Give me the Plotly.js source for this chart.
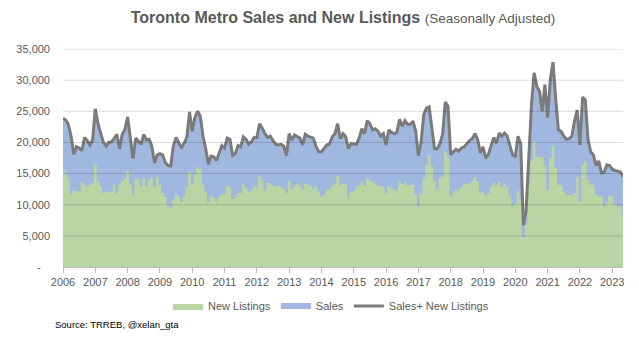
<!DOCTYPE html>
<html><head><meta charset="utf-8">
<script src="https://cdn.plot.ly/plotly-3.0.1.min.js"></script>
<style>html,body{margin:0;padding:0;background:#fff}#chart{width:639px;height:338px}</style>
</head><body><div id="chart"></div>
<script>
const startYear = 2006;
// monthly, Jan 2006 .. May 2023
const newListings = [
15700,14900,14000,11700,12300,12200,12100,13700,13200,12900,13200,13500,
16400,13700,12900,11900,12200,12000,12100,13200,11800,13200,13800,14200,
15400,13200,11600,14100,14100,13000,14300,13000,14000,14300,12900,14500,
13200,11900,11300,9900,9500,10700,11700,11400,10500,11400,12900,15300,
13200,14800,16000,15800,13200,12100,10300,11400,11100,10500,11300,11700,
11800,13100,12800,10900,11200,11900,11900,13400,12700,12100,12400,13000,
12800,14600,13900,12300,13500,13400,13100,12900,13100,12900,12600,11800,
13800,12600,13100,13400,13100,12500,13400,13300,13000,12600,12900,12100,
11300,11500,12400,12500,13000,13400,14600,13100,13400,13300,11300,12100,
12200,12900,13100,13600,13100,14200,13800,13700,13400,13100,13000,12900,
11800,13000,12600,12400,12300,13700,13300,13500,13100,13200,13200,11600,
9700,11800,14200,16400,18000,16100,13700,12500,14400,14500,18500,17800,
11300,12000,12400,12300,12900,13400,13300,13500,13800,14400,13700,12000,
12100,11500,11800,12900,13500,13100,13700,12900,13400,12900,11300,9700,
10200,12200,10900,4800,6800,13300,17000,20100,17700,17700,17600,16200,
12400,17600,19400,15900,13200,13200,12100,11600,11600,11600,11900,14500,
10500,16400,16900,14000,13200,13200,11600,11300,11300,9700,10300,11400,
11300,10000,9800,9700,8600
];
const sales = [
8200,8700,8900,9300,5800,7100,7000,5000,7600,7400,6400,6900,
9000,9300,8600,8100,7200,8000,8000,7400,9500,5800,7500,7900,
8700,7500,5800,6600,6100,6700,7000,7400,6500,5100,3800,3500,
5000,6100,5500,6400,6700,8800,9100,8600,8600,8500,7900,9600,
8600,9200,9000,8400,7800,6900,6200,6400,6600,6600,7200,7800,
7300,7600,7700,7000,7000,7600,7400,7500,7800,7600,7700,7800,
8000,8400,8400,9100,7300,7600,7200,6800,6500,6800,6800,6100,
7600,7800,8100,7600,7600,7100,7900,7700,7800,8100,6400,6400,
7200,7500,7200,7200,7900,8000,8400,7500,8000,7600,7700,7700,
7600,6800,7600,8600,8300,9300,9200,8300,8800,8700,8000,8500,
7800,9000,9000,9000,9300,10000,9300,10000,9800,9700,10200,10200,
8200,8200,10300,9100,7700,5900,5300,6500,5400,6800,8000,8000,
6700,6500,6500,6300,6200,5900,6600,6800,6800,7000,6800,6300,
7200,6000,6300,6700,7300,6800,7800,8100,8100,8100,8000,8300,
7600,8800,8900,1900,2200,3500,9000,11100,11300,10500,7400,13100,
11600,12500,13500,11100,8800,8600,8900,8900,9000,9400,11600,10700,
9100,10900,9900,6500,5300,4800,4700,5700,3800,5500,6100,4900,
4400,5500,5600,5600,5900
];
const yearLabels = ['2006','2007','2008','2009','2010','2011','2012','2013','2014','2015','2016','2017','2018','2019','2020','2021','2022','2023'];
const yTicks = [0,5000,10000,15000,20000,25000,30000,35000];
const yTickText = ['-\u00a0\u00a0\u00a0','5,000','10,000','15,000','20,000','25,000','30,000','35,000'];

const monthIdx = newListings.map((_, i) => i);
const total = sales.map((s, i) => s + newListings[i]);
const yearTickPos = yearLabels.map((_, k) => k * 12);

const FONT = 'Liberation Sans, Arial, sans-serif';
const TXT = '#595959';

const traces = [
  {type:'scatter', x: monthIdx, y: total, mode:'none', fill:'tozeroy', fillcolor:'#a0b7e0',
   name:'Sales', legendrank:2, hoverinfo:'skip'},
  {type:'scatter', x: monthIdx, y: newListings, mode:'lines', line:{shape:'hvh', width:0, color:'#b9d5a4'},
   fill:'tozeroy', fillcolor:'#b9d5a4', name:'New Listings', legendrank:1, hoverinfo:'skip'},
  {type:'scatter', mode:'lines', x: monthIdx, y: total, line:{color:'#7b7b7b', width:3},
   name:'Sales+ New Listings', legendrank:3, hoverinfo:'skip'}
];

const shapes = yTicks.slice(1).map(v => ({type:'line', xref:'paper', x0:0, x1:1, yref:'y', y0:v, y1:v,
  line:{color:'rgba(0,0,0,0.15)', width:1}, layer:'above'}));

const layout = {
  width:639, height:338,
  margin:{l:63, r:16, t:49, b:71},
  paper_bgcolor:'#fff', plot_bgcolor:'#fff',
  showlegend:true,
  title:{text:'<b>Toronto Metro Sales and New Listings</b> <span style="font-size:13.5px">(Seasonally Adjusted)</span>',
    font:{family:FONT, size:16, color:TXT},
    x:0.5, xref:'paper', xanchor:'center', y:1-17/338, yref:'container', yanchor:'middle'},
  xaxis:{range:[0, newListings.length-1], tickvals:yearTickPos, ticktext:yearLabels,
    ticks:'outside', ticklen:5, tickcolor:'#bfbfbf', showline:true, linecolor:'#bfbfbf', linewidth:1,
    showgrid:false, zeroline:false, tickfont:{family:FONT, size:11, color:TXT}, fixedrange:true},
  yaxis:{range:[0,35000], tickvals:yTicks, ticktext:yTickText, showgrid:false, zeroline:false,
    ticks:'', showline:false, ticklabelstandoff:12, tickfont:{family:FONT, size:11, color:TXT}, fixedrange:true},
  legend:{orientation:'h', x:(331-63)/560, xanchor:'center', y:-(306-267)/218, yanchor:'middle',
    font:{family:FONT, size:11, color:TXT}, traceorder:'normal'},
  shapes: shapes,
  annotations:[{text:'Source: TRREB, @xelan_gta', xref:'paper', yref:'paper', x:(53-63)/560, y:-(324-267)/218,
    xanchor:'left', yanchor:'middle', showarrow:false, font:{family:FONT, size:9.5, color:'#000'}}]
};

Plotly.newPlot('chart', traces, layout, {displayModeBar:false, staticPlot:true});
</script>
</body></html>
